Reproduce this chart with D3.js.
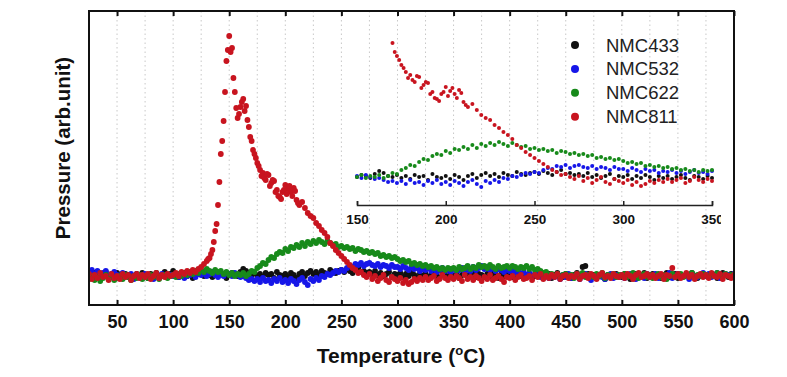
<!DOCTYPE html>
<html><head><meta charset="utf-8">
<script src="https://cdn.jsdelivr.net/npm/d3@7"></script>
<style>body{margin:0;background:#fff;} svg{display:block;font-family:Arial,"Liberation Sans",sans-serif;}</style>
</head><body><svg id="c" width="787" height="377"></svg>
<script>
const seriesNames = ["NMC433","NMC532","NMC622","NMC811"];
const seriesColors = ["#111111","#1616e8","#178a1a","#c8141f"];
// sampling grid of temperatures (°C)
const temps = d3.range(25, 600.01, 2.5);
const nmc433 = [
0.1,-0.2,0.3,0.0,-0.3,0.2,0.4,-0.1,0.1,-0.2,
0.3,0.0,-0.2,0.2,0.1,-0.3,0.0,0.2,-0.1,0.3,
0.1,-0.2,0.2,0.0,0.3,-0.1,0.1,0.4,0.0,0.2,
0.5,0.1,-0.1,0.2,0.3,0.0,0.2,-0.2,0.1,0.3,
0.2,0.0,0.3,0.1,-0.1,0.2,0.0,0.3,0.1,-0.2,
0.1,0.3,0.2,0.0,0.4,0.7,0.5,0.2,0.1,0.3,
0.0,0.2,-0.1,0.3,0.1,0.2,-0.2,0.4,0.1,0.0,
0.2,-0.1,0.3,0.1,-0.2,0.2,0.4,0.0,0.3,0.5,
0.2,0.4,0.1,0.5,0.3,0.2,0.6,0.4,0.3,0.5,
0.6,0.4,0.7,0.5,0.3,0.6,0.8,0.4,0.5,0.3,
0.4,0.2,0.5,0.1,0.3,0.0,0.2,0.4,-0.1,0.2,
0.1,0.3,-0.1,0.2,0.0,0.3,0.1,-0.2,0.2,0.0,
0.2,-0.1,0.1,0.3,0.0,-0.2,0.2,0.1,-0.1,0.2,
0.0,0.2,-0.2,0.1,0.3,0.0,0.1,0.4,-0.1,0.2,
0.1,-0.1,0.2,0.0,0.3,0.1,-0.2,0.2,0.0,0.1,
0.2,-0.1,0.1,0.3,0.0,-0.2,0.1,0.2,-0.1,0.0,
0.1,0.2,-0.1,0.0,0.2,-0.2,0.1,0.3,0.0,-0.1,
0.2,0.0,-0.2,0.1,0.3,0.0,0.9,1.0,0.2,-0.1,
0.1,-0.2,0.0,0.2,-0.3,0.1,0.0,-0.1,0.2,0.0,
-0.1,0.2,0.0,-0.3,0.1,0.2,-0.1,0.0,0.3,-0.2,
0.0,0.2,-0.1,0.1,-0.2,0.0,0.3,-0.1,0.1,0.2,
-0.2,0.1,0.0,0.2,-0.1,0.3,0.0,-0.2,0.1,0.2,
0.0,-0.1,0.2,0.1,-0.2,0.0,0.3,0.1,-0.1,0.2,
0.1];
const nmc532 = [
0.4,0.6,0.2,0.5,0.1,0.3,0.5,0.0,0.2,0.4,
0.1,-0.2,0.3,0.0,-0.1,0.2,-0.3,0.1,0.0,-0.2,
0.2,-0.1,0.0,-0.3,0.1,-0.2,0.2,0.0,-0.1,0.1,
0.0,0.2,-0.1,0.1,-0.2,0.0,0.1,0.3,-0.1,0.2,
0.1,0.3,0.0,0.2,0.4,0.1,-0.1,0.2,0.0,0.3,
0.2,0.0,0.3,0.1,-0.1,0.0,-0.2,-0.4,-0.3,-0.5,
-0.3,-0.6,-0.2,-0.5,-0.4,-0.7,-0.3,-0.5,-0.2,-0.6,
-0.4,-0.7,-0.3,-0.5,-0.8,-0.4,-0.2,-0.6,-0.9,-0.3,
-0.5,-0.2,-0.4,0.0,-0.1,0.2,0.1,0.3,0.5,0.4,
0.6,0.5,0.8,1.0,0.9,1.2,1.1,1.3,1.0,1.2,
1.3,1.1,1.0,1.2,0.9,1.1,1.0,0.8,1.1,0.9,
0.9,0.7,1.0,0.8,0.6,0.9,0.7,0.8,0.5,0.7,
0.6,0.8,0.5,0.7,0.4,0.6,0.8,0.5,0.6,0.4,
0.7,0.5,0.6,0.8,0.4,0.7,0.5,0.9,0.6,0.8,
1.0,0.7,0.9,0.6,0.8,0.5,0.7,0.6,0.4,0.7,
0.5,0.6,0.3,0.5,0.2,0.4,0.1,0.3,0.0,0.2,
0.1,-0.1,0.2,0.0,-0.2,0.1,-0.1,0.0,-0.3,0.1,
-0.1,0.2,-0.2,0.0,0.1,-0.3,0.0,0.2,-0.1,-0.4,
0.0,-0.2,0.1,-0.1,-0.3,0.0,0.2,-0.2,0.1,-0.1,
0.1,-0.2,0.0,0.2,-0.1,-0.3,0.1,0.0,-0.2,0.2,
-0.1,0.0,0.2,-0.2,0.1,-0.1,0.0,0.3,-0.2,0.0,
0.2,-0.1,0.0,0.1,-0.3,0.2,0.0,-0.1,0.1,0.3,
0.0,0.2,-0.1,0.1,0.3,-0.2,0.0,0.2,0.1,-0.1,
0.2];
const nmc622 = [
-0.3,0.0,-0.4,-0.1,-0.5,-0.2,0.1,-0.3,-0.1,-0.4,
-0.2,0.0,-0.3,0.1,-0.1,-0.4,0.0,-0.2,0.1,-0.3,
0.0,-0.2,0.1,-0.1,0.2,-0.3,0.0,0.1,-0.2,0.0,
0.1,-0.1,0.2,0.0,0.3,0.1,0.4,0.2,0.5,0.3,
0.6,0.4,0.7,0.5,0.3,0.6,0.4,0.5,0.2,0.4,
0.1,0.3,0.0,0.2,0.1,0.3,0.0,0.2,0.5,0.4,
0.8,1.0,1.3,1.2,1.6,1.9,1.8,2.2,2.4,2.3,
2.7,2.5,2.9,2.8,3.1,2.9,3.3,3.0,3.4,3.2,
3.5,3.3,3.6,3.4,3.2,3.5,3.3,3.1,3.2,2.9,
3.0,2.8,2.9,2.7,2.8,2.5,2.7,2.6,2.4,2.5,
2.3,2.4,2.2,2.3,2.0,2.1,1.9,2.0,1.8,1.9,
1.7,1.5,1.6,1.4,1.5,1.2,1.3,1.1,1.2,1.0,
1.1,0.9,1.0,0.8,0.9,0.7,0.8,0.6,0.8,0.7,
0.8,0.6,0.9,0.7,0.8,1.0,0.7,0.9,0.8,1.1,
0.9,1.0,0.8,1.1,0.9,0.7,1.0,0.8,0.9,1.0,
0.8,1.0,0.9,0.7,0.9,0.8,1.0,0.7,0.9,0.6,
0.7,0.5,0.3,0.4,0.1,0.2,0.0,0.2,-0.1,0.1,
0.2,0.0,0.1,-0.2,0.2,0.0,0.3,-0.1,0.1,0.0,
-0.1,0.2,0.0,0.3,-0.2,0.1,0.0,0.2,-0.1,0.1,
0.0,0.2,-0.1,0.1,0.3,0.0,-0.2,0.1,0.2,-0.1,
0.1,-0.2,0.0,0.2,-0.1,0.1,-0.3,0.0,0.2,-0.1,
0.0,0.2,-0.1,0.1,0.0,0.3,-0.2,0.1,0.0,0.2,
0.1,-0.1,0.2,0.0,0.3,0.1,-0.1,0.2,0.0,0.1,
0.0];
const nmc811 = [
0.2,-0.3,0.1,-0.2,0.3,-0.1,0.0,-0.4,0.2,-0.2,
0.0,-0.3,0.2,-0.1,0.1,-0.4,0.0,0.2,-0.2,0.1,
-0.1,0.2,-0.3,0.0,0.3,-0.2,0.1,-0.1,0.2,0.0,
0.1,0.3,0.0,0.4,0.2,0.5,0.3,0.6,0.4,0.7,
0.9,1.2,1.5,1.8,2.6,4.5,7.1,12.2,15.5,21.5,
24.0,22.8,18.4,15.8,16.9,17.7,17.0,14.9,13.5,12.2,
11.3,10.6,10.3,9.6,10.1,9.3,9.5,8.6,7.9,8.4,
9.1,8.7,8.4,8.8,7.6,7.1,7.4,6.8,6.3,6.0,
5.8,5.3,5.0,4.6,4.3,3.9,3.3,3.0,2.6,2.3,
2.0,1.7,1.4,1.1,0.8,0.6,0.3,0.4,0.1,-0.1,
0.2,-0.3,0.0,-0.5,-0.2,0.1,-0.4,-0.6,-0.1,-0.3,
-0.5,-0.2,-0.7,-0.4,-0.8,-0.6,-0.3,-0.5,-0.2,-0.4,
-0.1,-0.4,-0.2,0.0,-0.5,-0.3,0.1,-0.2,-0.4,-0.1,
-0.3,0.0,-0.2,-0.5,0.1,-0.3,-0.1,-0.4,0.0,-0.2,
-0.5,-0.1,-0.3,0.1,-0.4,-0.2,0.0,-0.3,-0.6,-0.1,
-0.2,0.0,-0.4,-0.1,0.1,-0.3,-0.2,0.0,-0.4,0.1,
-0.1,0.2,-0.3,0.0,-0.2,0.1,-0.1,0.2,-0.3,0.0,
0.1,-0.2,0.0,-0.1,0.2,-0.3,0.0,0.1,-0.2,0.2,
0.0,-0.3,0.1,0.3,-0.1,0.0,-0.2,0.2,0.0,-0.1,
0.1,-0.2,0.2,0.0,-0.3,0.1,0.3,-0.1,0.0,0.2,
-0.1,0.1,-0.2,0.0,0.2,-0.3,0.1,0.0,0.8,-0.1,
0.2,-0.2,0.0,0.3,-0.1,0.1,-0.3,0.0,0.2,-0.1,
0.1,-0.2,0.3,0.0,-0.1,0.2,-0.3,0.1,0.0,-0.2,
0.1];
// extra (denser) NMC811 readings through the main peak
const extraTemps811 = [131.25,133.75,136.25,138.75,141.25,143.75,146.25,148.75,151.25,153.75,156.25,158.75,161.25,163.75,166.25,168.75,171.25,173.75,176.25,178.75,181.25,183.75,186.25,188.75,191.25,193.75,196.25,198.75,201.25,203.75,206.25,208.75,211.25];
const extraVals811 = [1.7,2.2,3.4,5.2,9.4,13.5,18.4,22.6,22.4,19.8,16.8,16.2,17.4,16.5,15.6,13.9,12.6,11.8,11.0,10.0,9.8,10.2,9.0,9.6,8.4,8.0,7.7,8.6,8.2,9.0,8.0,8.5,7.3];
const mainTicks = [50,100,150,200,250,300,350,400,450,500,550,600];
const gridTicks = [50,75,100,125,150,175,200,225,250,275,300,325,350,375,400,425,450,475,500,525,550,575];
const insetTicks = [150,200,250,300,350];

const FONT = "Arial, 'Liberation Sans', sans-serif";
const svg = d3.select("#c");
const M = {l:89, t:11, r:734, b:305};
const x = d3.scaleLinear().domain([25,600]).range([M.l,M.r]);
const y = d3.scaleLinear().domain([-2.9,26.5]).range([M.b,M.t]);
const xi = d3.scaleLinear().domain([150,350]).range([357,712]);
const yi = d3.scaleLinear().domain([-2.7,13.8]).range([205,40]);

const seriesVals = [nmc433,nmc532,nmc622,nmc811];
const series = seriesVals.map((vals,i)=>{
  const pts = temps.map((t,j)=>({t, v: vals[j]}));
  if (i===3) extraTemps811.forEach((t,j)=>pts.push({t, v: extraVals811[j]}));
  return {name: seriesNames[i], color: seriesColors[i], pts};
});

const defs = svg.append("defs");
defs.append("clipPath").attr("id","clipMain").append("rect")
  .attr("x",M.l).attr("y",M.t).attr("width",M.r-M.l).attr("height",M.b-M.t);
defs.append("clipPath").attr("id","clipInsetLblG").append("rect")
  .attr("x",300).attr("y",-60).attr("width",421).attr("height",100);

// grid
svg.append("g").selectAll("line").data(gridTicks).join("line")
  .attr("x1",d=>x(d)).attr("x2",d=>x(d)).attr("y1",M.t).attr("y2",M.b)
  .attr("stroke","#c8c8c8").attr("stroke-width",1).attr("stroke-dasharray","1.5,3");

// main points
const gMain = svg.append("g").attr("clip-path","url(#clipMain)");
series.forEach(s=>{
  gMain.append("g").selectAll("circle").data(s.pts).join("circle")
    .attr("cx",d=>x(d.t)).attr("cy",d=>y(d.v)).attr("r",2.9).attr("fill",s.color);
});

// inset axis
const insetAxis = svg.append("g").attr("transform","translate(0,205)")
  .attr("clip-path","url(#clipInsetLblG)")
  .call(d3.axisBottom(xi).tickValues(insetTicks).tickSize(-4).tickSizeOuter(-4).tickPadding(9));
insetAxis.select(".domain").attr("stroke","#222").attr("stroke-width",1.5);
insetAxis.selectAll(".tick line").attr("stroke","#222").attr("stroke-width",1.5);
insetAxis.selectAll(".tick text").attr("font-size",13.5).attr("font-weight","bold")
  .attr("fill","#111").attr("font-family",FONT);

// inset points
const gIn = svg.append("g");
series.forEach(s=>{
  gIn.append("g").selectAll("circle")
    .data(s.pts.filter(d=>d.t>=150 && d.t<=350 && d.v<=13.8)).join("circle")
    .attr("cx",d=>xi(d.t)).attr("cy",d=>yi(d.v)).attr("r",2).attr("fill",s.color);
});

// frame
svg.append("rect").attr("x",M.l).attr("y",M.t).attr("width",M.r-M.l).attr("height",M.b-M.t)
  .attr("fill","none").attr("stroke","#111").attr("stroke-width",2);

// main axes
const axB = svg.append("g").attr("transform",`translate(0,${M.b})`)
  .call(d3.axisBottom(x).tickValues(mainTicks).tickSize(-5).tickSizeOuter(0).tickPadding(10.5));
axB.select(".domain").remove();
axB.selectAll(".tick line").attr("stroke","#111").attr("stroke-width",2);
axB.selectAll(".tick text").attr("font-size",18).attr("font-weight","bold").attr("fill","#111")
  .attr("font-family",FONT);
const axT = svg.append("g").attr("transform",`translate(0,${M.t})`)
  .call(d3.axisTop(x).tickValues(mainTicks).tickSize(-5).tickSizeOuter(0).tickFormat(""));
axT.select(".domain").remove();
axT.selectAll(".tick line").attr("stroke","#111").attr("stroke-width",2);

// legend
const lg = svg.append("g");
series.forEach((s,i)=>{
  const cy = 45 + i*23.9;
  lg.append("circle").attr("cx",575).attr("cy",cy).attr("r",4).attr("fill",s.color);
  lg.append("text").attr("x",606).attr("y",cy+6.5).attr("font-size",18.5)
    .attr("font-family",FONT).attr("fill","#222").text(s.name);
});

// titles
const xt = svg.append("text").attr("x",401).attr("y",363).attr("text-anchor","middle")
  .attr("font-size",21).attr("font-weight","bold").attr("fill","#111").attr("font-family",FONT);
xt.append("tspan").text("Temperature (");
xt.append("tspan").attr("font-size",13).attr("dy",-8).text("o");
xt.append("tspan").attr("dy",8).text("C)");
svg.append("text").attr("transform","translate(70,148) rotate(-90)").attr("text-anchor","middle")
  .attr("font-size",20.5).attr("font-weight","bold").attr("fill","#111")
  .attr("font-family",FONT).text("Pressure (arb.unit)");
</script></body></html>
